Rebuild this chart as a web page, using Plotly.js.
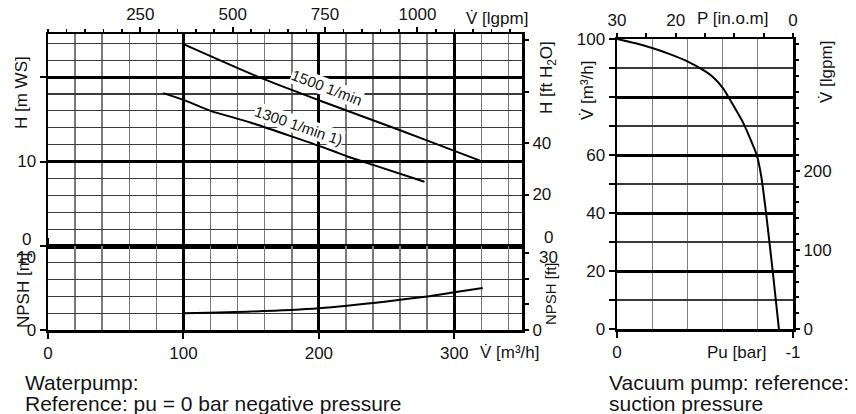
<!DOCTYPE html>
<html><head><meta charset="utf-8">
<script src="https://cdn.plot.ly/plotly-3.0.1.min.js"></script>
<style>html,body{margin:0;padding:0;background:#fff}#c{width:856px;height:414px}</style>
</head><body><div id="c"></div><script>
// ---- data ----
const flowTicks = [0, 100, 200, 300];              // m3/h
const igpmTicks = [250, 500, 750, 1000];           // Imperial gpm
const h1500V = [100, 157, 201, 260, 301, 319];
const h1500H = [23.9, 19.9, 17.2, 13.7, 11.2, 10.1];
const h1300V = [85, 100, 120, 150, 208, 221, 240, 278];
const h1300H = [18.1, 17.3, 16.0, 14.6, 11.4, 10.6, 9.6, 7.6];
const npshV = [100, 150, 200, 250, 280, 300, 321];
const npshM = [2.0, 2.2, 2.6, 3.4, 4.0, 4.5, 5.0];
const vacPu = [0, -0.1, -0.2, -0.3, -0.4, -0.5, -0.545, -0.605, -0.633, -0.718, -0.794, -0.82, -0.847, -0.885, -0.92];
const vacV  = [100, 98.6, 96.9, 94.8, 92.3, 88.9, 86.9, 82.8, 80, 71, 60, 52.5, 40, 19.8, 0];
const vacVTicks = [0, 20, 40, 60, 80, 100];
const vacVText  = ['0', '20', '40', '60', '', '100'];
const inomTicks = [0, 5, 10, 15, 20, 25, 30];
const inomText  = ['0', '', '', '', '20', '', '30'];

// unit conversions
const IGPM_PER_M3H = 3.666, FT_PER_M = 3.281;

// ---- layout helpers (pixel -> paper) ----
const W = 856, H = 414;
const px = p => p / W, py = p => 1 - p / H;
const FONT = '"Liberation Sans", Arial, sans-serif';
const TXT = '#151515';
const tf = {family: FONT, size: 17, color: TXT};

const vMax = 350, hMax = 25.1, nMax = 10;

const traces = [
  {x: h1500V, y: h1500H, xaxis: 'x', yaxis: 'y', mode: 'lines', line: {color: '#000', width: 2, shape: 'spline', smoothing: 0.6}},
  {x: h1300V, y: h1300H, xaxis: 'x', yaxis: 'y', mode: 'lines', line: {color: '#000', width: 2, shape: 'spline', smoothing: 0.6}},
  {x: npshV, y: npshM, xaxis: 'x', yaxis: 'y2', mode: 'lines', line: {color: '#000', width: 2, shape: 'spline', smoothing: 0.6}},
  {x: vacPu, y: vacV, xaxis: 'x3', yaxis: 'y5', mode: 'lines', line: {color: '#000', width: 2, shape: 'spline', smoothing: 0.5}},
  // empty helpers so that the secondary axes get their subplots
  {x: [], y: [], xaxis: 'x2', yaxis: 'y'},
  {x: [], y: [], xaxis: 'x', yaxis: 'y3'},
  {x: [], y: [], xaxis: 'x', yaxis: 'y4'},
  {x: [], y: [], xaxis: 'x4', yaxis: 'y5'},
  {x: [], y: [], xaxis: 'x3', yaxis: 'y6'}
];

const lineAx = {showline: true, linecolor: '#000', zeroline: false, tickcolor: '#000', tickfont: tf, fixedrange: true};

const layout = {
  width: W, height: H, margin: {l: 0, r: 0, t: 0, b: 0},
  paper_bgcolor: '#fff', plot_bgcolor: 'rgba(0,0,0,0)', showlegend: false,
  font: {family: FONT, color: TXT},
  xaxis: Object.assign({}, lineAx, {
    domain: [px(48), px(522)], anchor: 'y2', range: [0, vMax],
    tickmode: 'array', tickvals: flowTicks, ticks: 'outside', ticklen: 6, tickwidth: 2,
    showgrid: true, gridcolor: '#000', gridwidth: 3, linewidth: 2.5, mirror: 'all',
    minor: {dtick: 20, tick0: 0, showgrid: true, gridcolor: '#7a7a7a', gridwidth: 1.5, ticks: ''}
  }),
  xaxis2: Object.assign({}, lineAx, {
    overlaying: 'x', anchor: 'y', side: 'top', range: [0, vMax * IGPM_PER_M3H],
    tickmode: 'array', tickvals: igpmTicks, ticks: 'outside', ticklen: 6, tickwidth: 2,
    showgrid: false, showline: false,
    minor: {dtick: 50, tick0: 0, ticks: 'outside', ticklen: 4, tickwidth: 1.5, tickcolor: '#000', showgrid: false}
  }),
  yaxis: Object.assign({}, lineAx, {
    domain: [py(246), py(34)], anchor: 'x', range: [0, hMax],
    tickmode: 'array', tickvals: [10, 20], ticktext: ['10', ''], ticks: 'outside', ticklen: 6, tickwidth: 2,
    showgrid: true, gridcolor: '#000', gridwidth: 3, linewidth: 2.5, mirror: true,
    minor: {dtick: 2, tick0: 0, showgrid: true, gridcolor: '#3a3a3a', gridwidth: 1.2, ticks: ''}
  }),
  yaxis2: Object.assign({}, lineAx, {
    domain: [py(330), py(246)], anchor: 'x', range: [0, nMax],
    tickmode: 'array', tickvals: [0, 10], ticktext: ['0', ''], ticks: 'outside', ticklen: 6, tickwidth: 2,
    showgrid: false, linewidth: 2.5, mirror: true,
    minor: {dtick: 2, tick0: 0, showgrid: true, gridcolor: '#3a3a3a', gridwidth: 1.2, ticks: ''}
  }),
  yaxis3: Object.assign({}, lineAx, {
    overlaying: 'y', anchor: 'x', side: 'right', range: [0, hMax * FT_PER_M],
    tickmode: 'array', tickvals: [20, 40, 60, 80], ticktext: ['20', '40', '', ''], ticks: 'outside', ticklen: 6, tickwidth: 2,
    showgrid: false, showline: false
  }),
  yaxis4: Object.assign({}, lineAx, {
    overlaying: 'y2', anchor: 'x', side: 'right', range: [0, nMax * FT_PER_M],
    tickmode: 'array', tickvals: [0, 10, 20, 30], ticktext: ['0', '', '', ''], ticks: 'outside', ticklen: 6, tickwidth: 2,
    showgrid: false, showline: false
  }),
  xaxis3: Object.assign({}, lineAx, {
    domain: [px(617), px(793)], anchor: 'y5', range: [0, -1],
    tickmode: 'array', tickvals: [0, -1], ticktext: ['0', '-1'], ticks: 'outside', ticklen: 6, tickwidth: 2,
    showgrid: false, linewidth: 2.5, mirror: true,
    minor: {dtick: 0.2, tick0: 0, showgrid: true, gridcolor: '#808080', gridwidth: 1.2, ticks: ''}
  }),
  xaxis4: Object.assign({}, lineAx, {
    overlaying: 'x3', anchor: 'y5', side: 'top', range: [30, 0],
    tickmode: 'array', tickvals: inomTicks, ticktext: inomText, ticks: 'outside', ticklen: 5, tickwidth: 2,
    showgrid: false, showline: false
  }),
  yaxis5: Object.assign({}, lineAx, {
    domain: [py(329), py(39)], anchor: 'x3', range: [0, 100],
    tickmode: 'array', tickvals: vacVTicks, ticktext: vacVText, ticks: 'outside', ticklen: 6, tickwidth: 2,
    showgrid: true, gridcolor: '#000', gridwidth: 3, linewidth: 2.5, mirror: true,
    minor: {dtick: 10, tick0: 0, showgrid: true, gridcolor: '#3a3a3a', gridwidth: 1.2, ticks: 'outside', ticklen: 6, tickwidth: 2, tickcolor: '#000'}
  }),
  yaxis6: Object.assign({}, lineAx, {
    overlaying: 'y5', anchor: 'x3', side: 'right', range: [0, 100 * IGPM_PER_M3H],
    tickmode: 'array', tickvals: [0, 100, 200], ticks: 'outside', ticklen: 6, tickwidth: 2,
    showgrid: false, showline: false,
    minor: {dtick: 20, tick0: 0, ticks: 'outside', ticklen: 5, tickwidth: 2, tickcolor: '#000', showgrid: false}
  }),
  annotations: []
};

function ann(text, x, y, opts) {
  layout.annotations.push(Object.assign({
    text: text, xref: 'paper', yref: 'paper', x: px(x), y: py(y), showarrow: false,
    xanchor: 'center', yanchor: 'middle', font: {family: FONT, size: 17, color: TXT}
  }, opts || {}));
}
// axis titles
ann('V\u0307 [lgpm]', 497, 19);
ann('V\u0307 [m\u00b3/h]', 510, 352);
ann('P [in.o.m]', 733, 19);
ann('Pu [bar]', 737, 352);
ann('H [m WS]', 21, 93, {textangle: -90});
ann('NPSH [m]', 23, 290, {textangle: -90});
ann('H [ft H<sub>2</sub>O]', 548, 78, {textangle: -90});
ann('NPSH [ft]', 550, 294, {textangle: -90, font: {family: FONT, size: 15, color: TXT}});
ann('V\u0307 [m\u00b3/h]', 588, 90, {textangle: -90});
ann('V\u0307 [lgpm]', 826, 72, {textangle: -90});
// crowded boundary tick labels
ann('0', 27, 239);
ann('10', 26, 257);
ann('0', 548, 237);
ann('30', 548, 257);
// curve labels
ann('1500 1/min', 327, 87, {textangle: 21, bgcolor: '#fff', borderpad: 0, font: {family: FONT, size: 15, color: TXT}});
ann('1300 1/min 1)', 299, 125, {textangle: 19, bgcolor: '#fff', borderpad: 0, font: {family: FONT, size: 15, color: TXT}});
// notes
const noteFont = {family: FONT, size: 21, color: TXT};
ann('Waterpump:', 23, 382, {xanchor: 'left', font: noteFont});
ann('Reference: pu = 0 bar negative pressure', 23, 403, {xanchor: 'left', font: noteFont});
ann('Vacuum pump: reference:', 607, 382, {xanchor: 'left', font: noteFont});
ann('suction pressure', 607, 403, {xanchor: 'left', font: noteFont});

Plotly.newPlot('c', traces, layout, {displayModeBar: false, staticPlot: true});
</script></body></html>
